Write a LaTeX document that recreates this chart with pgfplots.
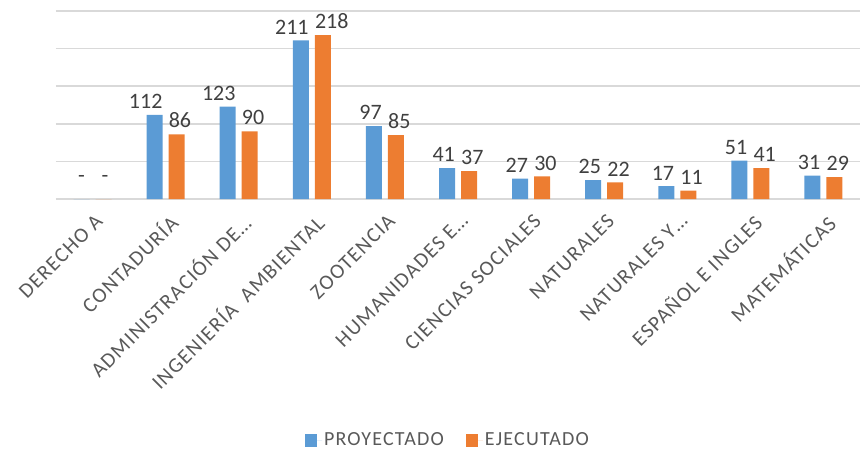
\documentclass[border=0pt]{standalone}
\usepackage{pgfplots}
\pgfplotsset{compat=1.18}
\usepackage{fontspec}
\setmainfont{Carlito}
\newfontfamily\lsfont[LetterSpace=6]{Carlito}
\definecolor{cblue}{HTML}{5B9BD5}
\definecolor{corange}{HTML}{ED7D31}
\definecolor{gridc}{HTML}{D9D9D9}
\definecolor{txt}{HTML}{595959}
\definecolor{lab}{HTML}{404040}
\begin{document}
\begin{tikzpicture}
\begin{axis}[
  at={(56bp,253bp)}, anchor=south west,
  scale only axis, width=804bp, height=188bp,
  ymin=0, ymax=250, xmin=-0.5, xmax=10.5,
  ytick={0,50,100,150,200,250}, yticklabels={},
  ymajorgrids, grid style={gridc, line width=1.5bp},
  major tick length=0pt,
  axis line style={draw=none},
  xtick={0,...,10},
  xticklabels={DERECHO A, CONTADURÍA, ADMINISTRACIÓN DE…, INGENIERÍA\ \ AMBIENTAL, ZOOTENCIA, HUMANIDADES E…, CIENCIAS SOCIALES, NATURALES, NATURALES Y…, ESPAÑOL E INGLES, MATEMÁTICAS},
  xticklabel style={xshift=1.6bp, yshift=-13.6bp, rotate=45, anchor=north east, font=\lsfont\fontsize{21bp}{25bp}\selectfont, text=txt, inner sep=0pt},
  ybar, bar width=16bp,
  /pgf/number format/assume math mode=true,
  nodes near coords={\pgfmathfloatifflags{\pgfplotspointmeta}{0}{-}{\pgfmathprintnumber{\pgfplotspointmeta}}},
  every node near coord/.append style={font=\fontsize{22bp}{26bp}\selectfont, text=lab, inner sep=0pt, yshift=6bp},
  legend columns=2,
  legend style={at={(0.4876,-1.282)}, anchor=center, draw=none, fill=none, font=\lsfont\fontsize{20bp}{24bp}\selectfont, text=txt,
    /tikz/every even column/.append style={column sep=20bp}},
  legend image code/.code={\fill[#1] (0bp,-6.5bp) rectangle (12bp,6.5bp); \path (0bp,0bp) -- (17bp,0bp);},
  clip=false,
]
\addplot[fill=cblue, draw=none, bar shift=-11bp, every node near coord/.append style={anchor=south east, xshift=8bp}] coordinates {(1,112) (2,123) (3,211) (4,97) (5,41) (6,27) (7,25) (8,17) (9,51) (10,31)};
\addplot[fill=corange, draw=none, bar shift=11bp, every node near coord/.append style={anchor=south west, xshift=-8bp}] coordinates {(1,86) (2,90) (3,218) (4,85) (5,37) (6,30) (7,22) (8,11) (9,41) (10,29)};
\addplot[fill=cblue, draw=none, bar shift=-11bp, forget plot, every node near coord/.append style={anchor=south, yshift=10bp}] coordinates {(0,0)};
\addplot[fill=corange, draw=none, bar shift=11bp, forget plot, every node near coord/.append style={anchor=south, xshift=1.5bp, yshift=10bp}] coordinates {(0,0)};
\legend{PROYECTADO, EJECUTADO}
\end{axis}
\pgfresetboundingbox
\path (0,0) rectangle (860bp,452bp);
\end{tikzpicture}
\end{document}
